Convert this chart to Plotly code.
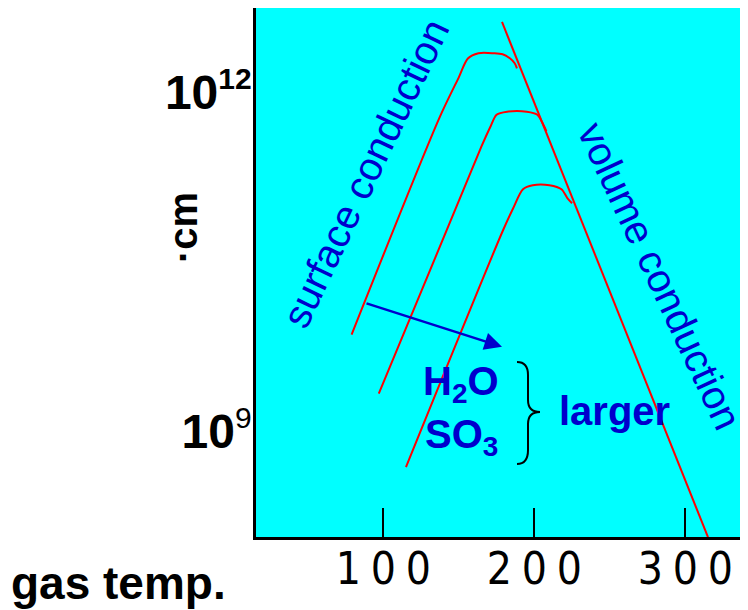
import math
import plotly.graph_objects as go

# ---- data (gas temperature vs. resistivity, schematic) ----
TEMP_TICKS = [100, 200, 300]
TEMP_TICK_TEXT = ["1\u20050\u20050", "2\u20050\u20050", "3\u20050\u20050"]
RES_TICKS = [1e9, 1e12]
RES_TICK_TEXT = ["<b>10</b><sup><span style='font-size:30px'>9</span></sup>",
                 "<b>10<sup><span style='font-size:30px'>12</span></sup></b>"]

curve1_T = [79, 137, 150, 156, 163, 173, 179, 184, 187, 188.5]
curve1_R = [7.9e9, 6.5e11, 1.5e12, 2.2e12, 2.45e12, 2.45e12, 2.4e12, 2.2e12, 2.0e12, 1.8e12]

curve2_T = [97, 165, 171, 175, 182, 195, 202, 206, 208]
curve2_R = [2.37e9, 3.66e11, 5.5e11, 7.0e11, 7.45e11, 7.45e11, 7.0e11, 5.7e11, 5.0e11]

curve3_T = [115, 179, 186, 192.5, 199, 210, 218, 222, 225]
curve3_R = [5.3e8, 6.5e10, 1.04e11, 1.53e11, 1.66e11, 1.66e11, 1.53e11, 1.27e11, 1.15e11]

volume_T = [178.6, 315]
volume_R = [4.64e12, 1.27e8]

X_RANGE = [15.7, 341.5]
Y_RANGE_LOG = [8.105, 12.79]

BLUE = "#0000CC"
RED = "#FF0000"
FONT = "Liberation Sans, Arial, sans-serif"
NARROW = "Liberation Sans Narrow, DejaVu Sans Condensed, sans-serif"

# page has an 8px body margin: figure occupies page x 8..748, y 8..610
OFF = 8
W, H = 740, 602
ML, MR, MT, MB = 248, 0, 0, 73


def to_paper(px, py):
    """page pixel -> paper coords"""
    fx, fy = px - OFF, py - OFF
    return (fx - ML) / (W - ML - MR), (H - MB - fy) / (H - MT - MB)


fig = go.Figure()
for t, r in [(curve1_T, curve1_R), (curve2_T, curve2_R), (curve3_T, curve3_R)]:
    fig.add_trace(go.Scatter(x=t, y=r, mode="lines",
                             line=dict(color=RED, width=2, shape="spline", smoothing=0.8),
                             hoverinfo="skip", showlegend=False))
fig.add_trace(go.Scatter(x=volume_T, y=volume_R, mode="lines",
                         line=dict(color=RED, width=2), hoverinfo="skip", showlegend=False))

annotations = [
    dict(x=88.5, y=11.325, text="surface conduction", textangle=-64.5, showarrow=False,
         xanchor="center", yanchor="middle",
         font=dict(family=FONT, size=40, color=BLUE)),
    dict(x=283.2, y=10.416, text="volume conduction", textangle=65, showarrow=False,
         xanchor="center", yanchor="middle",
         font=dict(family=FONT, size=40, color=BLUE)),
    dict(x=151.5, y=9.463, text="<b>H<sub>2</sub>O</b>", showarrow=False,
         font=dict(family=FONT, size=40, color=BLUE)),
    dict(x=151.5, y=8.987, text="<b>SO<sub>3</sub></b>", showarrow=False,
         font=dict(family=FONT, size=40, color=BLUE)),
    dict(x=253.4, y=9.225, text="<b>larger</b>", showarrow=False,
         font=dict(family=FONT, size=40, color=BLUE)),
    # arrow
    dict(x=178.6, y=9.79, ax=87.9, ay=10.178, xref="x", yref="y", axref="x", ayref="y",
         text="", showarrow=True, arrowhead=2, arrowsize=1.4, arrowwidth=2.5,
         arrowcolor=BLUE),
]

px_, py_ = to_paper(183, 228)
annotations.append(dict(x=px_, y=py_, xref="paper", yref="paper", text="<b>·cm</b>",
                        textangle=-90, showarrow=False, xanchor="center", yanchor="middle",
                        font=dict(family=FONT, size=40, color="black")))
gx, gy = to_paper(118, 583)
annotations.append(dict(x=gx, y=gy, xref="paper", yref="paper", text="<b>gas temp.</b>",
                        xanchor="center", yanchor="middle", showarrow=False,
                        font=dict(family=FONT, size=46, color="black")))

# brace (page pixel positions)
pts = [(517, 362), (528, 362), (528, 375), (528, 400), (528, 412), (540, 412),
       (528, 412), (528, 424), (528, 450), (528, 464), (517, 464)]
pp = [to_paper(a, b) for a, b in pts]
s = lambda p: f"{p[0]:.5f},{p[1]:.5f}"
path = (f"M {s(pp[0])} Q {s(pp[1])} {s(pp[2])} L {s(pp[3])} Q {s(pp[4])} {s(pp[5])} "
        f"Q {s(pp[6])} {s(pp[7])} L {s(pp[8])} Q {s(pp[9])} {s(pp[10])}")
fig.add_shape(type="path", path=path, xref="paper", yref="paper",
              line=dict(color="black", width=2))

fig.update_layout(
    width=W, height=H,
    margin=dict(l=ML, r=MR, t=MT, b=MB, pad=0),
    paper_bgcolor="white", plot_bgcolor="#00FFFF",
    showlegend=False,
    annotations=annotations,
    xaxis=dict(range=X_RANGE, tickvals=TEMP_TICKS, ticktext=TEMP_TICK_TEXT,
               ticks="inside", ticklen=29, tickwidth=2, tickcolor="black",
               showline=True, linecolor="black", linewidth=3,
               showgrid=False, zeroline=False, ticklabelstandoff=-9,
               tickfont=dict(family=NARROW, size=44, color="black")),
    yaxis=dict(type="log", range=Y_RANGE_LOG, tickvals=RES_TICKS, ticktext=RES_TICK_TEXT,
               ticks="", showline=True, linecolor="black", linewidth=2.5,
               showgrid=False, zeroline=False, ticklabelstandoff=-8, ticklabelshift=-5,
               tickfont=dict(family=FONT, size=48, color="black")),
)

fig.write_html("out.html")
